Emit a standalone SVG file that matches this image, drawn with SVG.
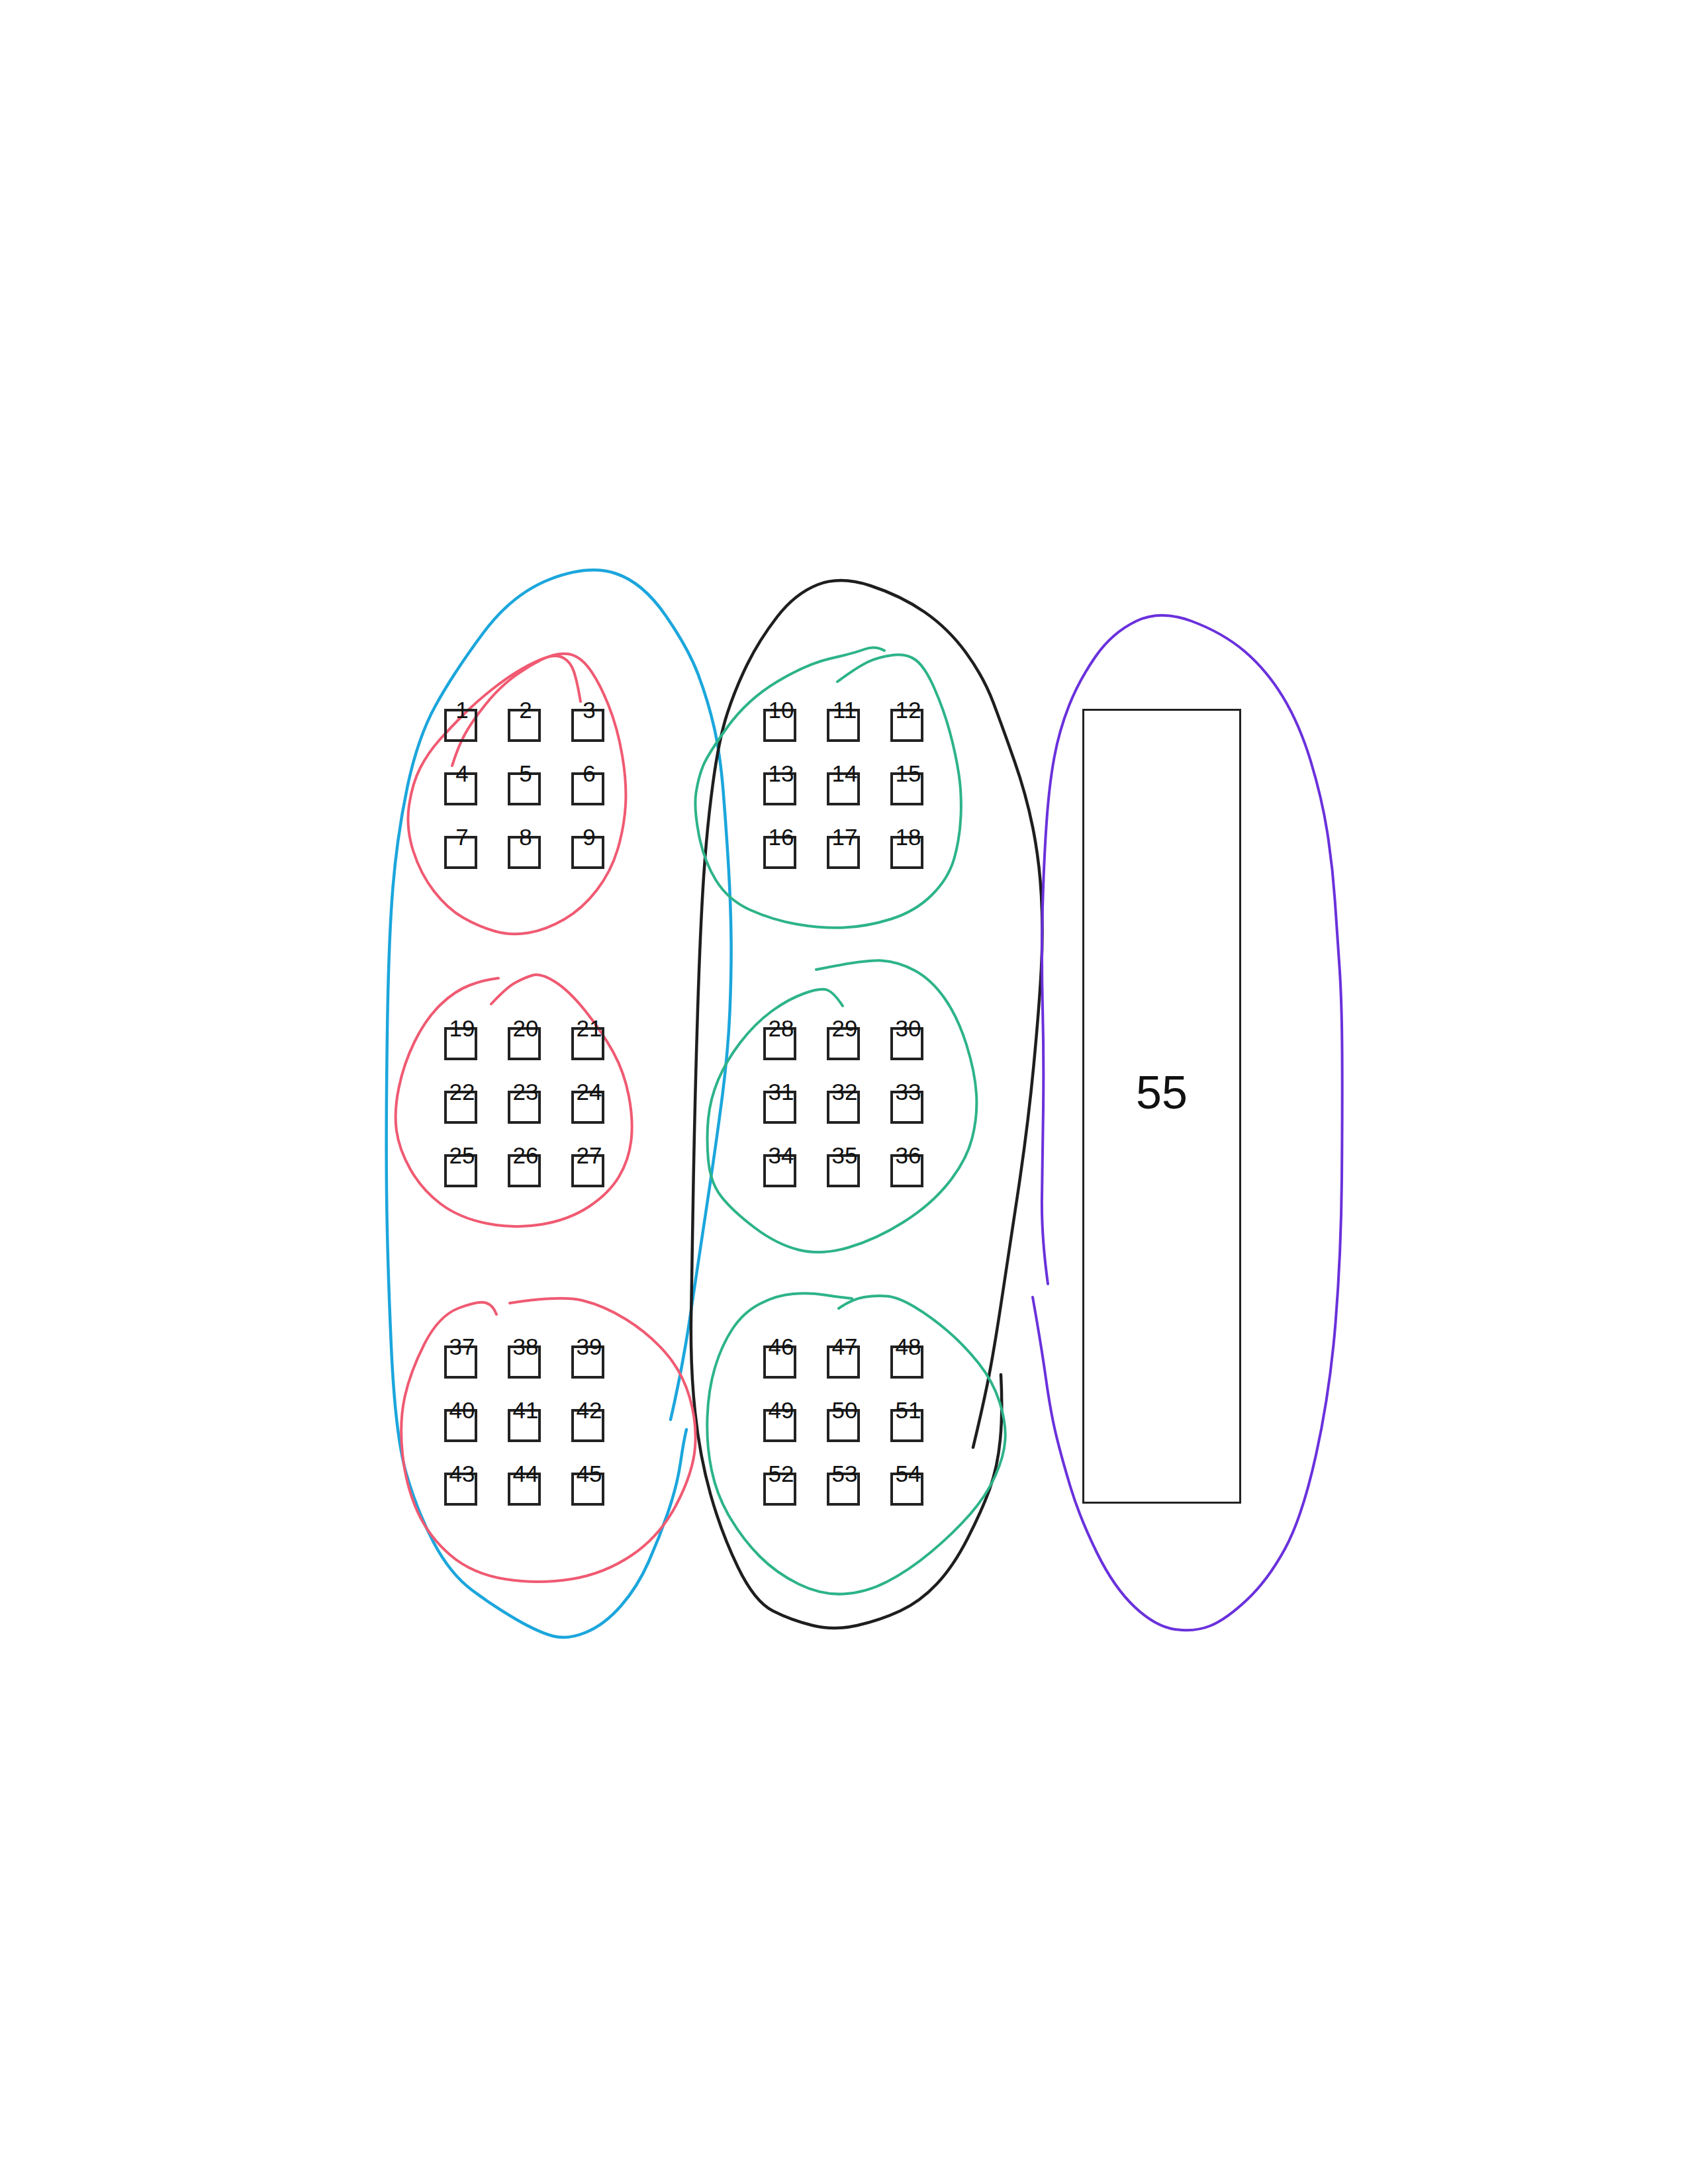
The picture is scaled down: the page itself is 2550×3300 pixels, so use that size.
<svg xmlns="http://www.w3.org/2000/svg" width="2550" height="3300" viewBox="0 0 2550 3300">
<style>
.box rect{fill:none;stroke:#222;stroke-width:4}
.box text{font-family:"Liberation Sans",Arial,sans-serif;font-size:35px;text-anchor:middle;fill:#111}
.big rect{fill:none;stroke:#222;stroke-width:3}
.big text{font-family:"Liberation Sans",Arial,sans-serif;font-size:70px;text-anchor:middle;fill:#111}
.loop{fill:none;stroke-linecap:round;stroke-linejoin:round}
.blue{stroke:#1ba6dc;stroke-width:4.5}
.red{stroke:#f05a72;stroke-width:4}
.green{stroke:#2db389;stroke-width:4}
.black{stroke:#1e1e1e;stroke-width:4.5}
.purple{stroke:#6a31dc;stroke-width:4}
</style>
<rect width="2550" height="3300" fill="#fff"/>
<g id="outlines">
<path class="loop blue" d="M1013,2145 Q1030,2072 1041.5,1996 Q1053,1920 1068,1820 Q1083,1720 1091.5,1653.5 Q1100,1587 1102.5,1528.5 Q1105,1470 1104.5,1419 Q1104,1368 1100.5,1309 Q1097,1250 1092.5,1195 Q1088,1140 1079,1100 Q1070,1060 1055,1020 Q1040,980 1005.5,930 Q971,880 930,866.5 Q889,853 831.5,875 Q774,897 729.5,957 Q685,1017 658,1066 Q631,1115 615.5,1188.5 Q600,1262 593.5,1341 Q587,1420 585,1560 Q583,1700 584,1800 Q585,1900 591,2034 Q597,2168 613.5,2225.5 Q630,2283 655,2330.5 Q680,2378 713.5,2403 Q747,2428 780,2447 Q813,2466 835,2472 Q857,2478 885,2466.5 Q913,2455 938,2426.5 Q963,2398 980,2359.5 Q997,2321 1010,2282.5 Q1023,2244 1028,2210 Q1033,2176 1037,2160"/>
<path class="loop black" d="M1470,2187 Q1483,2133 1491.5,2091.5 Q1500,2050 1511.5,1975 Q1523,1900 1538,1800 Q1553,1700 1561.5,1610.5 Q1570,1521 1573,1463.5 Q1576,1406 1573,1352.5 Q1570,1299 1560,1249.5 Q1550,1200 1532.5,1150 Q1515,1100 1500.5,1061.5 Q1486,1023 1459.5,986.5 Q1433,950 1397,925 Q1361,900 1315,885 Q1269,870 1235,883.5 Q1201,897 1174,932 Q1147,967 1129,1003.5 Q1111,1040 1098.5,1078.5 Q1086,1117 1077,1183.5 Q1068,1250 1063,1325 Q1058,1400 1054,1525 Q1050,1650 1047.5,1785 Q1045,1920 1044,1993.5 Q1043,2067 1050,2133.5 Q1057,2200 1073.5,2258.5 Q1090,2317 1115,2368.5 Q1140,2420 1167.5,2434 Q1195,2448 1227.5,2456 Q1260,2464 1295,2456 Q1330,2448 1360,2434 Q1390,2420 1415,2393.5 Q1440,2367 1461.5,2325 Q1483,2283 1495,2250 Q1507,2217 1511,2175 Q1515,2133 1512,2077"/>
<path class="loop purple" d="M1560,1960 Q1573,2033 1580,2083 Q1587,2133 1595,2166.5 Q1603,2200 1617,2246.5 Q1631,2293 1657,2346 Q1683,2399 1714.5,2428.5 Q1746,2458 1775.5,2462 Q1805,2466 1828.5,2456.5 Q1852,2447 1883.5,2417.5 Q1915,2388 1941,2340.5 Q1967,2293 1988,2198.5 Q2009,2104 2017.5,1999 Q2026,1894 2027,1779.5 Q2028,1665 2027.5,1588.5 Q2027,1512 2023.5,1461 Q2020,1410 2016.5,1359 Q2013,1308 2005,1257 Q1997,1206 1980,1150 Q1963,1094 1938,1053 Q1913,1012 1880,984 Q1847,956 1800,938.5 Q1753,921 1716.5,938.5 Q1680,956 1655,992 Q1630,1028 1615,1066 Q1600,1104 1592.5,1145 Q1585,1186 1581,1242.5 Q1577,1299 1575,1371.5 Q1573,1444 1575,1521 Q1577,1598 1576,1674 Q1575,1750 1574,1808.5 Q1573,1867 1583,1940"/>
<path class="loop red" d="M683,1157 Q692,1128 702.5,1109 Q713,1090 733,1065 Q753,1040 775,1023.5 Q797,1007 818.5,996.5 Q840,986 857.5,988 Q875,990 890,1010 Q905,1030 919,1065 Q933,1100 940,1141.5 Q947,1183 945,1216.5 Q943,1250 933,1283.5 Q923,1317 901.5,1345 Q880,1373 852.5,1389 Q825,1405 798.5,1409.5 Q772,1414 747.5,1407 Q723,1400 699.5,1386.5 Q676,1373 655.5,1346.5 Q635,1320 624,1285 Q613,1250 618,1216.5 Q623,1183 635,1160 Q647,1137 663.5,1118.5 Q680,1100 700,1080 Q720,1060 743.5,1041.5 Q767,1023 787,1011.5 Q807,1000 823.5,994 Q840,988 851,994 Q862,1000 867,1015 Q872,1030 877,1060"/>
<path class="loop red" d="M742,1517 Q765,1492 779,1484.5 Q793,1477 805,1473.5 Q817,1470 838.5,1483.5 Q860,1497 885,1528.5 Q910,1560 926.5,1590 Q943,1620 950,1656.5 Q957,1693 953.5,1723 Q950,1753 935,1778 Q920,1803 890,1823 Q860,1843 818.5,1850 Q777,1857 735,1848.5 Q693,1840 665,1818.5 Q637,1797 620,1767 Q603,1737 599,1708.5 Q595,1680 602.5,1643.5 Q610,1607 626.5,1573.5 Q643,1540 665,1518.5 Q687,1497 710,1488.5 Q733,1480 753,1478"/>
<path class="loop red" d="M750,1986 Q745,1972 734,1968.5 Q723,1965 693,1976.5 Q663,1988 641.5,2030 Q620,2072 611.5,2110.5 Q603,2149 608,2196.5 Q613,2244 630,2282.5 Q647,2321 680,2349.5 Q713,2378 763,2386 Q813,2394 863,2386 Q913,2378 955,2349.5 Q997,2321 1022,2273 Q1047,2225 1050,2187 Q1053,2149 1041.5,2110.5 Q1030,2072 1005,2043.5 Q980,2015 946.5,1994 Q913,1973 880,1965 Q847,1957 770,1969"/>
<path class="loop green" d="M1265,1030 Q1295,1008 1310.5,1000.5 Q1326,993 1347.5,990 Q1369,987 1383,997 Q1397,1007 1411.5,1040 Q1426,1073 1435,1106.5 Q1444,1140 1448.5,1170 Q1453,1200 1451.5,1233.5 Q1450,1267 1441.5,1297 Q1433,1327 1408,1352 Q1383,1377 1346.5,1388.5 Q1310,1400 1275.5,1401.5 Q1241,1403 1204,1396.5 Q1167,1390 1133.5,1375 Q1100,1360 1081.5,1330 Q1063,1300 1055.5,1260 Q1048,1220 1051.5,1197.5 Q1055,1175 1062,1157.5 Q1069,1140 1099,1098.5 Q1129,1057 1174,1030 Q1219,1003 1254.5,995 Q1290,987 1306,981 Q1322,975 1336,983"/>
<path class="loop green" d="M1273,1520 Q1260,1500 1250,1496 Q1240,1492 1215,1501 Q1190,1510 1165,1528.5 Q1140,1547 1118.5,1575 Q1097,1603 1085,1631.5 Q1073,1660 1070,1690 Q1067,1720 1070,1753.5 Q1073,1787 1090,1808.5 Q1107,1830 1140,1855 Q1173,1880 1206.5,1888.5 Q1240,1897 1281.5,1885 Q1323,1873 1365,1846.5 Q1407,1820 1433.5,1786.5 Q1460,1753 1468.5,1720 Q1477,1687 1475,1653.5 Q1473,1620 1460,1578.5 Q1447,1537 1427,1508.5 Q1407,1480 1382,1466.5 Q1357,1453 1332,1451.5 Q1307,1450 1233,1465"/>
<path class="loop green" d="M1267,1977 Q1287,1963 1305,1960 Q1323,1957 1340,1958.5 Q1357,1960 1382,1975 Q1407,1990 1432,2011.5 Q1457,2033 1478.5,2060 Q1500,2087 1510,2118.5 Q1520,2150 1518.5,2175 Q1517,2200 1503.5,2230 Q1490,2260 1465,2288.5 Q1440,2317 1406.5,2345 Q1373,2373 1340,2390 Q1307,2407 1273.5,2408.5 Q1240,2410 1206.5,2393.5 Q1173,2377 1148,2352 Q1123,2327 1103,2293.5 Q1083,2260 1075,2221.5 Q1067,2183 1068.5,2141.5 Q1070,2100 1080,2066.5 Q1090,2033 1106.5,2008 Q1123,1983 1148,1970 Q1173,1957 1198,1955 Q1223,1953 1245,1956.5 Q1267,1960 1287,1962"/>
</g>
<g id="nodes">
<g id="n1" class="box"><rect x="673" y="1073" width="46" height="46"/><text x="698" y="1085">1</text></g>
<g id="n2" class="box"><rect x="769" y="1073" width="46" height="46"/><text x="794" y="1085">2</text></g>
<g id="n3" class="box"><rect x="865" y="1073" width="46" height="46"/><text x="890" y="1085">3</text></g>
<g id="n4" class="box"><rect x="673" y="1169" width="46" height="46"/><text x="698" y="1181">4</text></g>
<g id="n5" class="box"><rect x="769" y="1169" width="46" height="46"/><text x="794" y="1181">5</text></g>
<g id="n6" class="box"><rect x="865" y="1169" width="46" height="46"/><text x="890" y="1181">6</text></g>
<g id="n7" class="box"><rect x="673" y="1265" width="46" height="46"/><text x="698" y="1277">7</text></g>
<g id="n8" class="box"><rect x="769" y="1265" width="46" height="46"/><text x="794" y="1277">8</text></g>
<g id="n9" class="box"><rect x="865" y="1265" width="46" height="46"/><text x="890" y="1277">9</text></g>
<g id="n10" class="box"><rect x="1155" y="1073" width="46" height="46"/><text x="1180" y="1085">10</text></g>
<g id="n11" class="box"><rect x="1251" y="1073" width="46" height="46"/><text x="1276" y="1085">11</text></g>
<g id="n12" class="box"><rect x="1347" y="1073" width="46" height="46"/><text x="1372" y="1085">12</text></g>
<g id="n13" class="box"><rect x="1155" y="1169" width="46" height="46"/><text x="1180" y="1181">13</text></g>
<g id="n14" class="box"><rect x="1251" y="1169" width="46" height="46"/><text x="1276" y="1181">14</text></g>
<g id="n15" class="box"><rect x="1347" y="1169" width="46" height="46"/><text x="1372" y="1181">15</text></g>
<g id="n16" class="box"><rect x="1155" y="1265" width="46" height="46"/><text x="1180" y="1277">16</text></g>
<g id="n17" class="box"><rect x="1251" y="1265" width="46" height="46"/><text x="1276" y="1277">17</text></g>
<g id="n18" class="box"><rect x="1347" y="1265" width="46" height="46"/><text x="1372" y="1277">18</text></g>
<g id="n19" class="box"><rect x="673" y="1554" width="46" height="46"/><text x="698" y="1566">19</text></g>
<g id="n20" class="box"><rect x="769" y="1554" width="46" height="46"/><text x="794" y="1566">20</text></g>
<g id="n21" class="box"><rect x="865" y="1554" width="46" height="46"/><text x="890" y="1566">21</text></g>
<g id="n22" class="box"><rect x="673" y="1650" width="46" height="46"/><text x="698" y="1662">22</text></g>
<g id="n23" class="box"><rect x="769" y="1650" width="46" height="46"/><text x="794" y="1662">23</text></g>
<g id="n24" class="box"><rect x="865" y="1650" width="46" height="46"/><text x="890" y="1662">24</text></g>
<g id="n25" class="box"><rect x="673" y="1746" width="46" height="46"/><text x="698" y="1758">25</text></g>
<g id="n26" class="box"><rect x="769" y="1746" width="46" height="46"/><text x="794" y="1758">26</text></g>
<g id="n27" class="box"><rect x="865" y="1746" width="46" height="46"/><text x="890" y="1758">27</text></g>
<g id="n28" class="box"><rect x="1155" y="1554" width="46" height="46"/><text x="1180" y="1566">28</text></g>
<g id="n29" class="box"><rect x="1251" y="1554" width="46" height="46"/><text x="1276" y="1566">29</text></g>
<g id="n30" class="box"><rect x="1347" y="1554" width="46" height="46"/><text x="1372" y="1566">30</text></g>
<g id="n31" class="box"><rect x="1155" y="1650" width="46" height="46"/><text x="1180" y="1662">31</text></g>
<g id="n32" class="box"><rect x="1251" y="1650" width="46" height="46"/><text x="1276" y="1662">32</text></g>
<g id="n33" class="box"><rect x="1347" y="1650" width="46" height="46"/><text x="1372" y="1662">33</text></g>
<g id="n34" class="box"><rect x="1155" y="1746" width="46" height="46"/><text x="1180" y="1758">34</text></g>
<g id="n35" class="box"><rect x="1251" y="1746" width="46" height="46"/><text x="1276" y="1758">35</text></g>
<g id="n36" class="box"><rect x="1347" y="1746" width="46" height="46"/><text x="1372" y="1758">36</text></g>
<g id="n37" class="box"><rect x="673" y="2035" width="46" height="46"/><text x="698" y="2047">37</text></g>
<g id="n38" class="box"><rect x="769" y="2035" width="46" height="46"/><text x="794" y="2047">38</text></g>
<g id="n39" class="box"><rect x="865" y="2035" width="46" height="46"/><text x="890" y="2047">39</text></g>
<g id="n40" class="box"><rect x="673" y="2131" width="46" height="46"/><text x="698" y="2143">40</text></g>
<g id="n41" class="box"><rect x="769" y="2131" width="46" height="46"/><text x="794" y="2143">41</text></g>
<g id="n42" class="box"><rect x="865" y="2131" width="46" height="46"/><text x="890" y="2143">42</text></g>
<g id="n43" class="box"><rect x="673" y="2227" width="46" height="46"/><text x="698" y="2239">43</text></g>
<g id="n44" class="box"><rect x="769" y="2227" width="46" height="46"/><text x="794" y="2239">44</text></g>
<g id="n45" class="box"><rect x="865" y="2227" width="46" height="46"/><text x="890" y="2239">45</text></g>
<g id="n46" class="box"><rect x="1155" y="2035" width="46" height="46"/><text x="1180" y="2047">46</text></g>
<g id="n47" class="box"><rect x="1251" y="2035" width="46" height="46"/><text x="1276" y="2047">47</text></g>
<g id="n48" class="box"><rect x="1347" y="2035" width="46" height="46"/><text x="1372" y="2047">48</text></g>
<g id="n49" class="box"><rect x="1155" y="2131" width="46" height="46"/><text x="1180" y="2143">49</text></g>
<g id="n50" class="box"><rect x="1251" y="2131" width="46" height="46"/><text x="1276" y="2143">50</text></g>
<g id="n51" class="box"><rect x="1347" y="2131" width="46" height="46"/><text x="1372" y="2143">51</text></g>
<g id="n52" class="box"><rect x="1155" y="2227" width="46" height="46"/><text x="1180" y="2239">52</text></g>
<g id="n53" class="box"><rect x="1251" y="2227" width="46" height="46"/><text x="1276" y="2239">53</text></g>
<g id="n54" class="box"><rect x="1347" y="2227" width="46" height="46"/><text x="1372" y="2239">54</text></g>
<g id="n55" class="big"><rect x="1636.5" y="1072.5" width="237" height="1198"/><text x="1755" y="1675">55</text></g>
</g>
</svg>
